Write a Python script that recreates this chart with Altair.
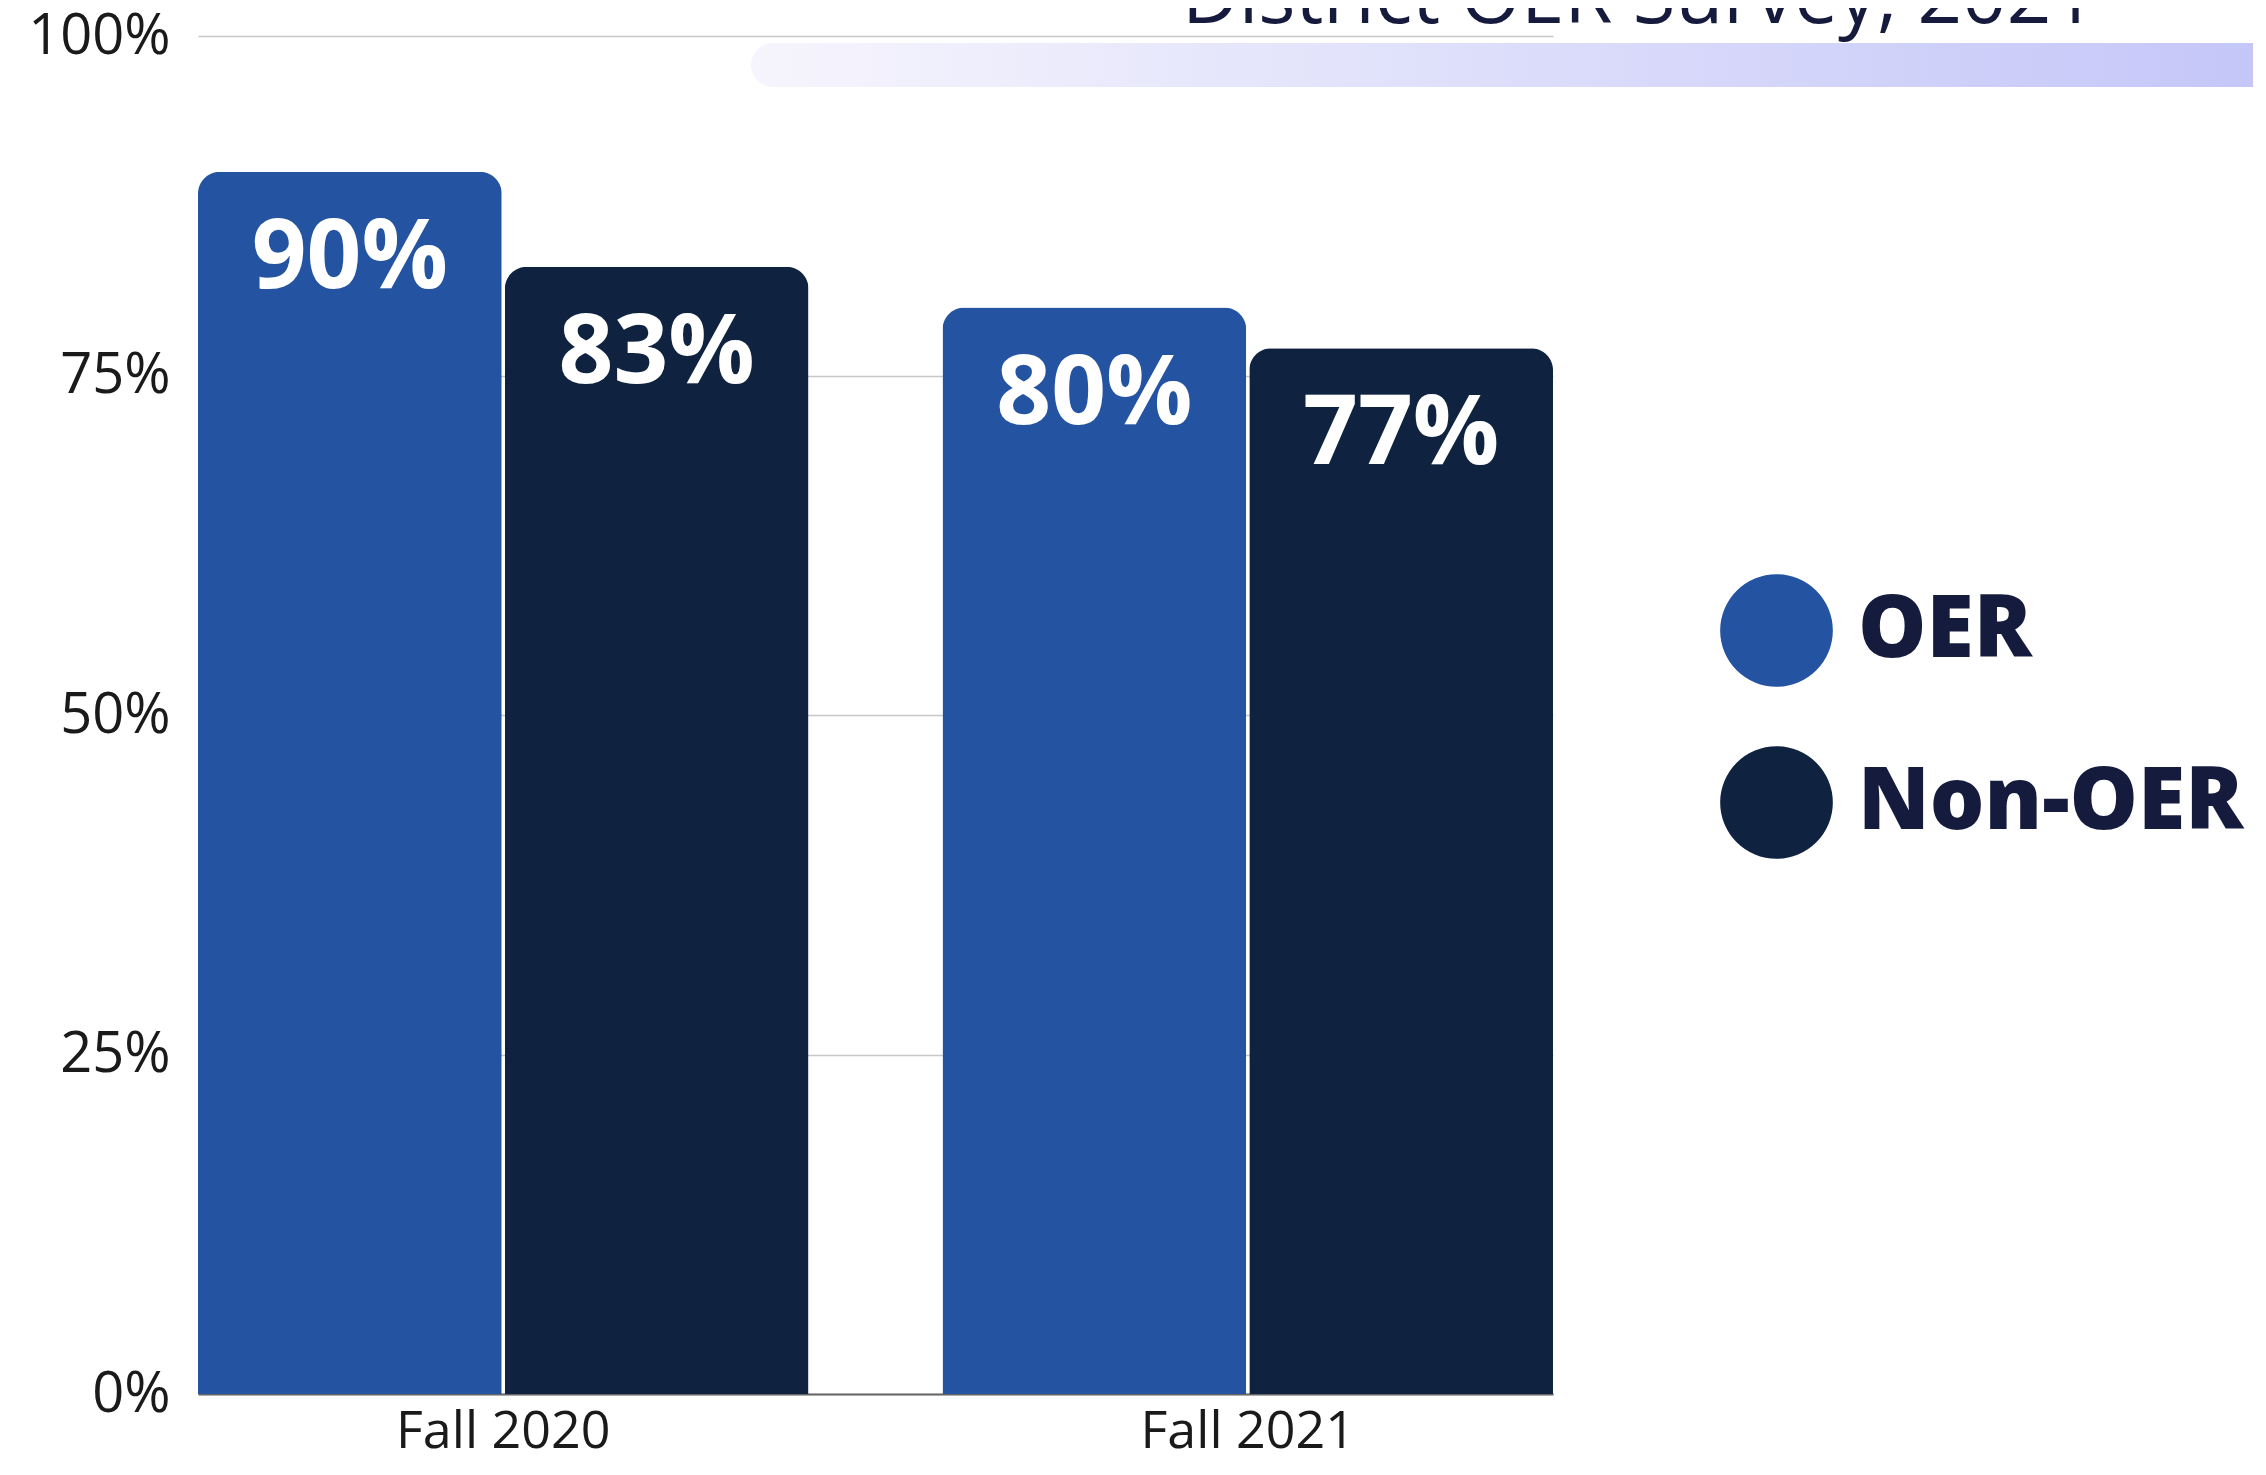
import altair as alt
import pandas as pd

terms = ["Fall 2020", "Fall 2020", "Fall 2021", "Fall 2021"]
groups = ["OER", "Non-OER", "OER", "Non-OER"]
values = [90, 83, 80, 77]
group_order = ["OER", "Non-OER"]
group_colors = ["#2454a1", "#0f2340"]
y_ticks = [0, 25, 50, 75, 100]
title_text = "District OER Survey, 2021"

df = pd.DataFrame({"term": terms, "group": groups, "value": values})

W, H = 1355, 1358

x_enc = alt.X("term:N", title=None,
              scale=alt.Scale(paddingInner=0.18, paddingOuter=0),
              axis=alt.Axis(labelAngle=0, labelFontSize=52, labelFont="Open Sans",
                            labelColor="#1a1a1a", labelPadding=12, labelLimit=800, ticks=False,
                            domainColor="#666666", domainWidth=2, grid=False))
xo_enc = alt.XOffset("group:N", sort=group_order, scale=alt.Scale(paddingInner=0.01))
y_enc = alt.Y("value:Q", title=None,
              scale=alt.Scale(domain=[0, 100], nice=False),
              axis=alt.Axis(values=y_ticks, labelExpr="datum.value + '%'",
                            labelFontSize=56, labelFont="Open Sans", labelColor="#1a1a1a",
                            labelPadding=28, domain=False, ticks=False,
                            gridColor="#c8c8c8", gridWidth=1.5))

base = alt.Chart(df)

bars = base.mark_bar(cornerRadiusTopLeft=22, cornerRadiusTopRight=22).encode(
    x=x_enc, xOffset=xo_enc, y=y_enc,
    color=alt.Color("group:N", sort=group_order,
                    scale=alt.Scale(domain=group_order, range=group_colors),
                    legend=alt.Legend(orient="none", legendX=1522, legendY=538, title=None,
                                      symbolType="circle", symbolSize=12700,
                                      symbolStrokeWidth=0, labelFontSize=86,
                                      labelFont="Open Sans", labelFontWeight=800,
                                      labelColor="#151b3d", labelLimit=800,
                                      labelOffset=25, rowPadding=59)),
)

labels = base.transform_calculate(lbl="datum.value + '%'").mark_text(
    dy=116, baseline="alphabetic", fontSize=96, fontWeight="bold",
    font="Open Sans", color="white"
).encode(x="term:N", xOffset=alt.XOffset("group:N", sort=group_order), y="value:Q", text="lbl:N")

band = alt.Chart(pd.DataFrame({"k": [0]})).mark_rect(
    cornerRadius=22,
    color=alt.LinearGradient(gradient="linear", x1=0, x2=1, y1=0, y2=0,
                             stops=[alt.GradientStop(color="#f6f5fd", offset=0),
                                    alt.GradientStop(color="#c3c5f8", offset=1)])
).encode(x=alt.value(553), x2=alt.value(2100), y=alt.value(7), y2=alt.value(51))

title = alt.Chart(pd.DataFrame({"t": [title_text]})).mark_text(
    fontSize=78, font="Open Sans", color="#161b3d", baseline="alphabetic", align="center"
).encode(x=alt.value(1441), y=alt.value(-13), text="t:N")

chart = alt.layer(band, bars, labels, title).properties(
    width=W, height=H,
    autosize=alt.AutoSizeParams(type="none"),
    padding={"left": 190, "top": 28, "right": 700, "bottom": 72},
).configure_view(stroke=None)

chart.save("out.html", embed_options={"renderer": "svg", "actions": False})
